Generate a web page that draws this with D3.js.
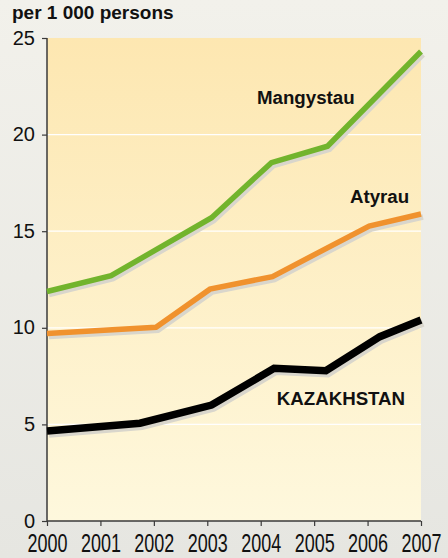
<!DOCTYPE html>
<html><head><meta charset="utf-8">
<script src="https://cdn.jsdelivr.net/npm/d3@7"></script>
<style>html,body{margin:0;padding:0;}svg{display:block;}</style>
</head><body>
<script>
const title = "per 1 000 persons";
const yTicks = [0, 5, 10, 15, 20, 25];
const xTicks = [2000, 2001, 2002, 2003, 2004, 2005, 2006, 2007];
const mangystauX = [2000, 2001.2, 2003.08, 2004.2, 2005.25, 2007];
const mangystauY = [11.88, 12.7, 15.7, 18.55, 19.4, 24.3];
const atyrauX = [2000, 2002.04, 2003.05, 2004.22, 2006.03, 2007];
const atyrauY = [9.71, 10.03, 12.0, 12.65, 15.27, 15.89];
const kazakhX = [2000, 2001.74, 2003.08, 2004.25, 2005.22, 2006.23, 2007];
const kazakhY = [4.66, 5.06, 6.0, 7.9, 7.78, 9.54, 10.4];
const seriesNames = ["Mangystau", "Atyrau", "KAZAKHSTAN"];

const W = 448, H = 558;
const m = {l: 47, r: 27, t: 38, b: 37};
const FONT = "'Liberation Sans', Arial, sans-serif";
const svg = d3.select("body").append("svg").attr("width", W).attr("height", H)
  .style("font-family", FONT);
const defs = svg.append("defs");
const bg = defs.append("linearGradient").attr("id", "bg").attr("x1", 0).attr("y1", 0).attr("x2", 0).attr("y2", 1);
bg.append("stop").attr("offset", "0%").attr("stop-color", "#f2f1eb");
bg.append("stop").attr("offset", "100%").attr("stop-color", "#e6e6e1");
const pg = defs.append("linearGradient").attr("id", "pg").attr("x1", 0).attr("y1", 0).attr("x2", 0).attr("y2", 1);
pg.append("stop").attr("offset", "0%").attr("stop-color", "#fde7b1");
pg.append("stop").attr("offset", "100%").attr("stop-color", "#fef8dd");

svg.append("rect").attr("width", W).attr("height", H).attr("fill", "url(#bg)");

const x = d3.scaleLinear().domain([2000, 2007]).range([m.l, W - m.r]);
const y = d3.scaleLinear().domain([0, 25]).range([H - m.b, m.t]);

svg.append("rect").attr("x", x(2000)).attr("y", y(25)).attr("width", x(2007) - x(2000))
  .attr("height", y(0) - y(25)).attr("fill", "url(#pg)");

svg.append("g").selectAll("line").data(yTicks.filter(d => d > 0 && d < 25)).join("line")
  .attr("x1", x(2000)).attr("x2", x(2007)).attr("y1", d => y(d)).attr("y2", d => y(d))
  .attr("stroke", "#ffffff").attr("stroke-width", 1.2);

const yAxis = svg.append("g").attr("transform", `translate(${x(2000)},0)`)
  .call(d3.axisLeft(y).tickValues(yTicks).tickSize(5).tickPadding(7));
const xAxis = svg.append("g").attr("transform", `translate(0,${y(0)})`)
  .call(d3.axisBottom(x).tickValues(xTicks).tickFormat(d3.format("d")).tickSize(5).tickPadding(5));
[yAxis, xAxis].forEach(a => {
  a.select(".domain").attr("stroke", "#3a3a3a").attr("stroke-width", 1.5);
  a.selectAll(".tick line").attr("stroke", "#3a3a3a").attr("stroke-width", 1.2);
  a.selectAll("text").attr("fill", "#111").style("font-family", FONT);
});
yAxis.selectAll("text").style("font-size", "20px").attr("dy", "0.3em");
xAxis.selectAll("text").style("font-size", "18px")
  .attr("y", 0).attr("dy", 0).attr("transform", "translate(0,31) scale(1,1.45)");
yAxis.select(".domain").attr("d", `M0,${y(25)}V${y(0)}`);
xAxis.select(".domain").attr("d", `M${x(2000)},0H${x(2007)}`);

const series = [
  {xs: mangystauX, ys: mangystauY, color: "#72b42d", w: 5.5},
  {xs: atyrauX, ys: atyrauY, color: "#f0922e", w: 5.5},
  {xs: kazakhX, ys: kazakhY, color: "#000000", w: 7.5}
];
const line = d3.line().x(d => x(d[0])).y(d => y(d[1]));
series.forEach(s => {
  const pts = s.xs.map((v, i) => [v, s.ys[i]]);
  svg.append("path").attr("d", line(pts)).attr("fill", "none")
    .attr("stroke", "#d9d6cc").attr("stroke-width", s.w).attr("transform", "translate(2,3)")
    .attr("stroke-linejoin", "miter");
  svg.append("path").attr("d", line(pts)).attr("fill", "none")
    .attr("stroke", s.color).attr("stroke-width", s.w).attr("stroke-linejoin", "miter");
});

svg.append("text").attr("x", 12).attr("y", 19).text(title)
  .style("font-size", "19px").style("font-weight", "bold").attr("fill", "#111");

const labels = [
  {t: seriesNames[0], x: 2003.93, y: 21.58},
  {t: seriesNames[1], x: 2005.67, y: 16.46},
  {t: seriesNames[2], x: 2004.3, y: 6.0}
];
svg.append("g").selectAll("text").data(labels).join("text")
  .attr("x", d => x(d.x)).attr("y", d => y(d.y)).text(d => d.t)
  .style("font-size", "18.7px").style("font-weight", "bold").attr("fill", "#111");
</script>
</body></html>
